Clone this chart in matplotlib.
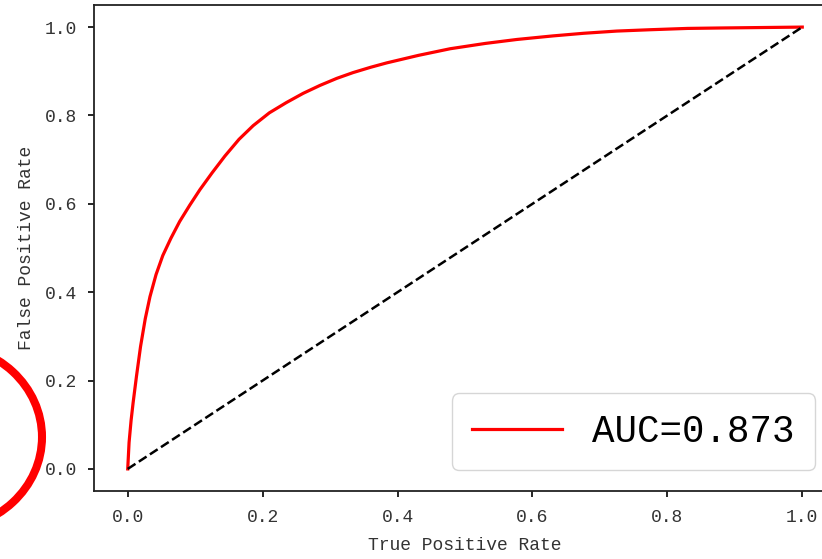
import matplotlib
matplotlib.use("Agg")
import matplotlib.pyplot as plt
from matplotlib.patches import Ellipse

# ROC points
fpr = [0.0, 0.002, 0.005, 0.008, 0.013, 0.019, 0.026, 0.033, 0.042, 0.052,
       0.064, 0.077, 0.092, 0.107, 0.125, 0.144, 0.165, 0.186, 0.210, 0.235,
       0.260, 0.285, 0.310, 0.334, 0.360, 0.384, 0.431, 0.478, 0.530, 0.577,
       0.630, 0.676, 0.725, 0.774, 0.830, 0.880, 0.940, 1.0]
tpr = [0.0, 0.060, 0.110, 0.150, 0.210, 0.277, 0.340, 0.390, 0.440, 0.483,
       0.522, 0.560, 0.597, 0.632, 0.670, 0.708, 0.746, 0.777, 0.806, 0.829,
       0.850, 0.868, 0.884, 0.897, 0.909, 0.919, 0.936, 0.951, 0.963, 0.972,
       0.980, 0.986, 0.991, 0.994, 0.997, 0.998, 0.999, 1.0]
auc = 0.873
ticks = [0.0, 0.2, 0.4, 0.6, 0.8, 1.0]

plt.rcParams['font.family'] = ['Liberation Mono', 'DejaVu Sans']

fig = plt.figure(figsize=(8.22, 5.59), dpi=100)
ax = fig.add_axes([94 / 822, 68 / 559, 742 / 822, 486 / 559])

ax.plot(fpr, tpr, color='red', lw=2.3, label='AUC=%.3f' % auc)
ax.plot([0, 1], [0, 1], color='black', lw=1.8, ls='--')

ax.set_xlim(-0.05, 1.05)
ax.set_ylim(-0.05, 1.05)
ax.set_xticks(ticks)
ax.set_yticks(ticks)
ax.set_xticklabels(['%.1f' % t for t in ticks], fontsize=13, color='#333333')
ax.set_yticklabels(['%.1f' % t for t in ticks], fontsize=13, color='#333333')
ax.set_xlabel('True Positive Rate', fontsize=13, color='#333333', labelpad=8)
ax.set_ylabel('False Positive Rate', fontsize=13, color='#333333', labelpad=7)
for s in ax.spines.values():
    s.set_linewidth(1.3)
    s.set_color('#222222')
ax.tick_params(width=1.2, length=4)
ax.tick_params(axis='x', pad=9)
ax.tick_params(axis='y', pad=8)

ax.legend(loc='lower right', fontsize=27, handlelength=2.4, borderaxespad=0.55,
          borderpad=0.55)

# red ring partly outside the left of the figure
ring = Ellipse((-58 / 822, (559 - 437) / 559), 200 / 822, 185 / 559,
               transform=fig.transFigure, fill=False, edgecolor='red',
               lw=5.8, clip_on=False)
fig.patches.append(ring)

fig.savefig('out.png', dpi=100)
